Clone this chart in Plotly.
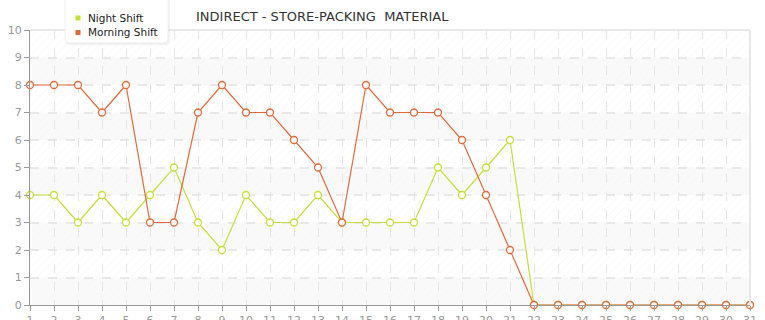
import plotly.graph_objects as go

days = list(range(1, 32))
night_shift = [4, 4, 3, 4, 3, 4, 5, 3, 2, 4, 3, 3, 4, 3, 3, 3, 3, 5, 4, 5, 6,
               0, 0, 0, 0, 0, 0, 0, 0, 0, 0]
morning_shift = [8, 8, 8, 7, 8, 3, 3, 7, 8, 7, 7, 6, 5, 3, 8, 7, 7, 7, 6, 4, 2,
                 0, 0, 0, 0, 0, 0, 0, 0, 0, 0]
y_ticks = list(range(0, 11))
series_names = ["Night Shift", "Morning Shift"]
title_text = "INDIRECT - STORE-PACKING  MATERIAL"

night_color = "#c3e03a"
morning_color = "#e2693a"
colors = [night_color, morning_color]
FONT = "DejaVu Sans"

# plot area geometry (pixels)
W, H = 765, 320
L, R, T, B = 30, 15, 30, 15
PW, PH = W - L - R, H - T - B


def px_x(p):
    return (p - L) / PW


def px_y(p):
    return (H - B - p) / PH


fig = go.Figure()

x_lo, x_hi = days[0], days[-1]
y_lo, y_hi = y_ticks[0], y_ticks[-1]
# plain grey bands (below gridlines)
for b in range(y_lo, y_hi, 2):
    fig.add_shape(type="rect", xref="x", yref="y", x0=x_lo, x1=x_hi, y0=b, y1=b + 1,
                  fillcolor="#f9f9f9", line_width=0, layer="below")
# hatched bands
odd_bands = [b + 0.5 for b in range(y_lo + 1, y_hi, 2)]
even_bands = [b + 0.5 for b in range(y_lo, y_hi, 2)]
for bands, fg in [(odd_bands, "#ebebeb"), (even_bands, "#f1f1f1")]:
    fig.add_trace(go.Bar(
        y=bands, x=[x_hi - x_lo] * len(bands), base=x_lo, orientation="h", width=1,
        marker=dict(color="rgba(0,0,0,0)", line_width=0,
                    pattern=dict(shape="/", fgcolor=fg, bgcolor="rgba(0,0,0,0)",
                                 size=6, solidity=0.12, fillmode="overlay")),
        showlegend=False, hoverinfo="skip"))

for name, vals, col in zip(series_names, [night_shift, morning_shift], colors):
    fig.add_trace(go.Scatter(
        x=days, y=vals, mode="lines+markers", name=name,
        line=dict(color=col, width=1.2),
        marker=dict(symbol="circle", size=7, color="white", line=dict(color=col, width=1.3)),
        showlegend=False, hoverinfo="skip", cliponaxis=False))

# title
fig.add_annotation(text=title_text, xref="paper", yref="paper", x=px_x(322), y=px_y(17),
                   xanchor="center", yanchor="middle", showarrow=False,
                   font=dict(family=FONT, size=13, color="#333333"))

# top/right border
fig.add_shape(type="line", xref="paper", yref="paper", x0=0, x1=1, y0=1, y1=1,
              line=dict(color="#e8e8e8", width=2))
fig.add_shape(type="line", xref="paper", yref="paper", x0=1, x1=1, y0=0, y1=1,
              line=dict(color="#e8e8e8", width=2))

# legend box (rounded bottom corners) with soft shadow
def rounded_box(x0, x1, y0, y1, r):
    return (f"M {px_x(x0)},{px_y(y0)} L {px_x(x1)},{px_y(y0)} "
            f"L {px_x(x1)},{px_y(y1 - r)} Q {px_x(x1)},{px_y(y1)} {px_x(x1 - r)},{px_y(y1)} "
            f"L {px_x(x0 + r)},{px_y(y1)} Q {px_x(x0)},{px_y(y1)} {px_x(x0)},{px_y(y1 - r)} Z")

fig.add_shape(type="path", xref="paper", yref="paper", path=rounded_box(66, 170, -5, 45, 5),
              fillcolor="rgba(0,0,0,0.05)", line_width=0, layer="above")
fig.add_shape(type="path", xref="paper", yref="paper", path=rounded_box(65, 168, -5, 43, 5),
              fillcolor="white", line=dict(color="#eeeeee", width=1), layer="above")
for i, (name, col) in enumerate(zip(series_names, colors)):
    cy = 18 + i * 14.5
    fig.add_shape(type="rect", xref="paper", yref="paper",
                  x0=px_x(75.5), x1=px_x(80.5), y0=px_y(cy - 2.5), y1=px_y(cy + 2.5),
                  fillcolor=col, line_width=0, layer="above")
    fig.add_annotation(text=name, xref="paper", yref="paper", x=px_x(86), y=px_y(cy),
                       xanchor="left", yanchor="middle", showarrow=False,
                       font=dict(family=FONT, size=10.5, color="#222222"))

fig.update_layout(
    width=W, height=H,
    margin=dict(l=L, r=R, t=T, b=B, autoexpand=False),
    paper_bgcolor="white", plot_bgcolor="white",
    font=dict(family=FONT, size=11, color="#999999"),
    showlegend=False,
    xaxis=dict(range=[x_lo, x_hi], tickmode="array", tickvals=days,
               ticktext=[str(d) for d in days], automargin=False,
               showgrid=True, gridcolor="#e4e4e4", griddash="dash", gridwidth=1,
               showline=True, linecolor="#999999", linewidth=1,
               ticks="outside", ticklen=5, tickcolor="#999999",
               zeroline=False, fixedrange=True),
    yaxis=dict(range=[y_lo, y_hi], tickmode="array", tickvals=y_ticks,
               ticktext=[str(v) for v in y_ticks], automargin=False,
               showgrid=True, gridcolor="#e8e8e8", griddash="dash", gridwidth=2,
               showline=True, linecolor="#999999", linewidth=1,
               ticks="outside", ticklen=5, tickcolor="#999999",
               zeroline=False, fixedrange=True),
)

fig.write_html("out.html")
